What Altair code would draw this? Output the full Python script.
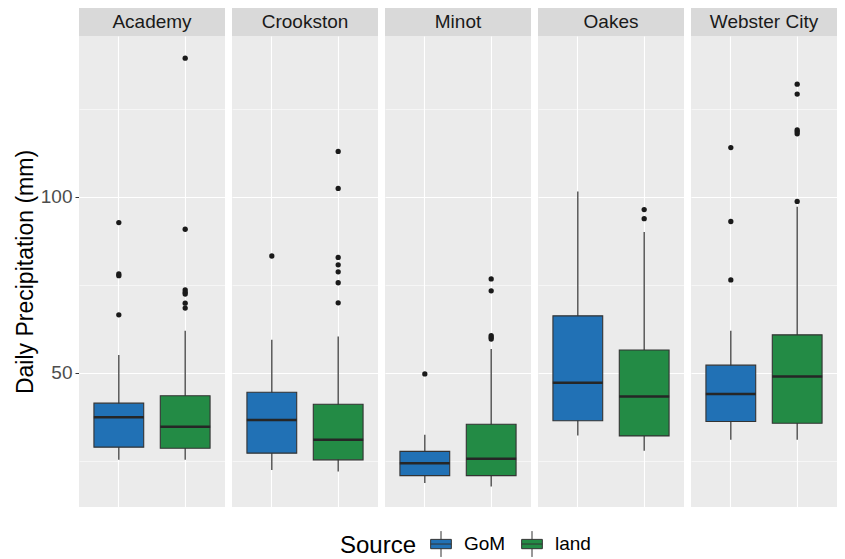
import altair as alt
import pandas as pd

sites = ["Academy", "Crookston", "Minot", "Oakes", "Webster City"]
sources = ["GoM", "land"]

# box statistics, order: (site, source) site-major
box_site = ["Academy", "Academy", "Crookston", "Crookston", "Minot", "Minot",
            "Oakes", "Oakes", "Webster City", "Webster City"]
box_source = ["GoM", "land"] * 5
w_low = [25.3, 25.3, 22.4, 22.0, 18.7, 17.7, 32.2, 27.9, 31.0, 31.0]
q1 = [28.9, 28.6, 27.2, 25.3, 20.8, 20.8, 36.4, 32.1, 36.2, 35.7]
median = [37.4, 34.7, 36.6, 31.0, 24.3, 25.6, 47.2, 43.3, 44.0, 49.0]
q3 = [41.4, 43.5, 44.5, 41.1, 27.7, 35.4, 66.2, 56.5, 52.2, 60.8]
w_high = [55.1, 62.0, 59.4, 60.3, 32.4, 56.8, 101.5, 90.0, 62.0, 97.2]

# outliers
out_site = (["Academy"] * 4 + ["Academy"] * 7 + ["Crookston"] * 1 + ["Crookston"] * 7
            + ["Minot"] * 1 + ["Minot"] * 5 + ["Oakes"] * 2
            + ["Webster City"] * 3 + ["Webster City"] * 6)
out_source = (["GoM"] * 4 + ["land"] * 7 + ["GoM"] * 1 + ["land"] * 7
              + ["GoM"] * 1 + ["land"] * 5 + ["land"] * 2
              + ["GoM"] * 3 + ["land"] * 6)
out_value = [92.7, 78.1, 77.6, 66.5,
             139.4, 90.8, 73.6, 72.9, 72.4, 69.8, 68.4,
             83.2,
             112.9, 102.4, 82.8, 80.7, 78.7, 75.6, 69.9,
             49.7,
             76.7, 73.3, 60.6, 60.1, 59.6,
             96.4, 93.8,
             114.0, 93.0, 76.4,
             132.0, 129.2, 119.0, 118.5, 117.9, 98.7]

colors = ["#2171B5", "#238B45"]
y_domain = [11.9, 145.7]
grid_values = [25, 50, 75, 100, 125]

box_df = pd.DataFrame({"kind": "box", "site": box_site, "source": box_source,
                       "lo": w_low, "q1": q1, "med": median, "q3": q3, "hi": w_high})
out_df = pd.DataFrame({"kind": "out", "site": out_site, "source": out_source,
                       "value": out_value})
strip_df = pd.DataFrame({"kind": "strip", "site": sites})
df = pd.concat([box_df, out_df, strip_df], ignore_index=True)

FONT = "Liberation Sans"
W, H = 146, 471

xenc = alt.X("source:N", sort=sources,
             scale=alt.Scale(domain=sources, paddingInner=0.25, paddingOuter=0.225),
             axis=alt.Axis(labels=False, ticks=False, domain=False, title=None,
                           grid=True, gridColor="white", gridWidth=1.1))
yscale = alt.Scale(domain=y_domain, nice=False, zero=False)
yaxis = alt.Axis(values=grid_values, title="Daily Precipitation (mm)",
                 labelExpr="datum.value % 50 === 0 ? datum.label : ''",
                 labelFontSize=19, labelColor="#4D4D4D", labelFont=FONT,
                 labelPadding=3, tickSize=4, tickColor="#333333",
                 tickOpacity={"condition": {"test": "datum.value % 50 === 0", "value": 1}, "value": 0},
                 domain=False, grid=True, gridColor="white",
                 gridWidth={"condition": {"test": "datum.value % 50 === 0", "value": 1.1}, "value": 0.55},
                 titleFontSize=23, titleFont=FONT, titleFontWeight="normal",
                 titleColor="black", titlePadding=3)

legend_symbol = "M-1,-0.45H1V0.45H-1Z M-1,0H1 M0,-0.45V-1.25 M0,0.45V1.25"

base = alt.Chart().properties(width=W, height=H)

whisk = base.mark_rule(color="#333333", strokeWidth=1.2).encode(
    x=xenc,
    y=alt.Y("lo:Q", scale=yscale, axis=yaxis),
    y2="hi:Q",
).transform_filter(alt.datum.kind == "box")

box = base.mark_bar(stroke="#333333", strokeWidth=1.1, opacity=1).encode(
    x=xenc,
    y=alt.Y("q3:Q", scale=yscale, axis=yaxis),
    y2="q1:Q",
    color=alt.Color("source:N", scale=alt.Scale(domain=sources, range=colors),
                    legend=alt.Legend(orient="none", legendX=261, legendY=497,
                                      direction="horizontal", titleOrient="left",
                                      title="Source", titleFontSize=24,
                                      titleFontWeight="normal", titleColor="black",
                                      titleFont=FONT, labelFont=FONT,
                                      labelFontSize=19, labelColor="black",
                                      symbolType=legend_symbol, symbolSize=428,
                                      symbolStrokeColor="#333333", symbolStrokeWidth=1,
                                      symbolOpacity=1, labelOffset=12,
                                      columnPadding=13, titlePadding=13)),
).transform_filter(alt.datum.kind == "box")

med = base.mark_tick(orient="horizontal", size=50, thickness=2.5, color="#262626",
                     opacity=1).encode(
    x=xenc,
    y=alt.Y("med:Q", scale=yscale, axis=yaxis),
).transform_filter(alt.datum.kind == "box")

outl = base.mark_circle(size=28, color="#1A1A1A", opacity=1).encode(
    x=xenc,
    y=alt.Y("value:Q", scale=yscale, axis=yaxis),
).transform_filter(alt.datum.kind == "out")

strip = base.mark_rect(color="#D9D9D9", clip=False).encode(
    x=alt.value(0), x2=alt.value(W), y=alt.value(-28), y2=alt.value(0),
).transform_filter(alt.datum.kind == "strip")

strip_text = base.mark_text(font=FONT, fontSize=19, color="#1A1A1A",
                            baseline="middle", align="center").encode(
    x=alt.value(W / 2), y=alt.value(-14), text="site:N",
).transform_filter(alt.datum.kind == "strip")

chart = alt.layer(whisk, box, med, outl, strip, strip_text, data=df).facet(
    column=alt.Column("site:N", sort=sites, header=alt.Header(labels=False, title=None)),
    spacing=7,
).properties(
    padding={"left": 6, "top": 0, "right": 0, "bottom": 0},
    background="white",
).configure_view(fill="#EBEBEB", strokeWidth=0)

chart.save("out.html", embed_options={"renderer": "svg", "actions": False})
